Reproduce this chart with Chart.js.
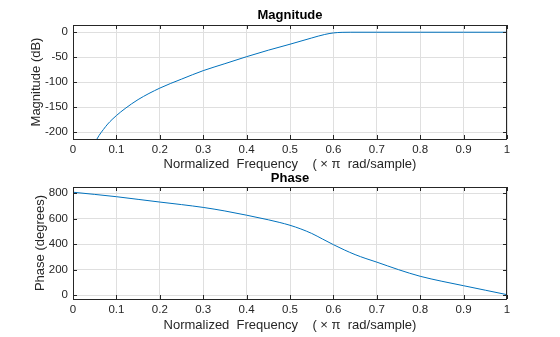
<!DOCTYPE html>
<html>
<head>
<meta charset="utf-8">
<script src="https://cdn.jsdelivr.net/npm/chart.js@4.4.1/dist/chart.umd.min.js"></script>
<style>
  html, body { margin: 0; padding: 0; background: #fff; }
  #wrap { position: relative; width: 560px; height: 337px; }
  #wrap canvas { position: absolute; left: 0; top: 0; }
</style>
</head>
<body>
<div id="wrap">
  <canvas id="magChart" width="560" height="337"></canvas>
  <canvas id="phaseChart" width="560" height="337"></canvas>
</div>
<script>
// ─── Data ──────────────────────────
const freqTicks = [0, 0.1, 0.2, 0.3, 0.4, 0.5, 0.6, 0.7, 0.8, 0.9, 1];
const magTicks = [-200, -150, -100, -50, 0];
const phaseTicks = [0, 200, 400, 600, 800];

const magFreq = [0.05, 0.06, 0.07, 0.08, 0.09, 0.1, 0.12, 0.15, 0.2, 0.25, 0.3, 0.35, 0.4, 0.45, 0.5, 0.55, 0.58, 0.6, 0.62, 0.64, 0.7, 0.8, 0.9, 1.0];
const magDb = [-222, -207, -195, -184, -175, -167, -153, -135, -112, -94, -77, -63, -49, -36, -24, -11.5, -4.5, -1.4, -0.2, 0, 0, 0, 0, 0];

const phaseFreq = [0, 0.05, 0.1, 0.15, 0.2, 0.25, 0.3, 0.35, 0.4, 0.45, 0.475, 0.5, 0.525, 0.55, 0.575, 0.6, 0.625, 0.65, 0.675, 0.7, 0.75, 0.8, 0.85, 0.9, 0.95, 1.0];
const phaseDeg = [808, 791, 773, 752, 731, 711, 689, 661, 628, 592, 572, 549, 520, 485, 441, 397, 356, 319, 288, 260, 201, 149, 110, 75, 40, 5];

const FONT = "'Liberation Sans', Arial, Helvetica, sans-serif";
const AXIS_COLOR = '#262626';
const GRID_COLOR = '#dfdfdf';
const LINE_COLOR = '#0072bd';
const X_LABEL = 'Normalized  Frequency    ( \u00d7 \u03c0  rad/sample)';

// inward ticks on all four sides + box, like a matlab axes
const boxPlugin = {
    id: 'boxTicks',
    afterDraw(chart) {
        const { ctx, chartArea: a, scales } = chart;
        const len = 4;
        ctx.save();
        ctx.strokeStyle = AXIS_COLOR;
        ctx.lineWidth = 1;
        ctx.beginPath();
        scales.x.ticks.forEach(t => {
            const px = Math.round(scales.x.getPixelForValue(t.value)) + 0.5;
            ctx.moveTo(px, a.bottom); ctx.lineTo(px, a.bottom - len);
            ctx.moveTo(px, a.top); ctx.lineTo(px, a.top + len);
        });
        scales.y.ticks.forEach(t => {
            const py = Math.round(scales.y.getPixelForValue(t.value)) + 0.5;
            ctx.moveTo(a.left, py); ctx.lineTo(a.left + len, py);
            ctx.moveTo(a.right, py); ctx.lineTo(a.right - len, py);
        });
        ctx.stroke();
        ctx.strokeRect(Math.round(a.left) + 0.5, Math.round(a.top) + 0.5,
            Math.round(a.right - a.left) - 1, Math.round(a.bottom - a.top));
        ctx.restore();
    }
};

function makeChart(id, opts) {
    const pts = opts.xs.map((x, i) => ({ x: x, y: opts.ys[i] }));
    return new Chart(document.getElementById(id), {
        type: 'line',
        data: {
            datasets: [{
                data: pts,
                borderColor: LINE_COLOR,
                borderWidth: 1,
                pointRadius: 0,
                fill: false,
                cubicInterpolationMode: 'monotone'
            }]
        },
        options: {
            responsive: false,
            animation: false,
            events: [],
            layout: { padding: opts.padding },
            plugins: {
                legend: { display: false },
                tooltip: { enabled: false },
                title: {
                    display: true,
                    text: opts.title,
                    fullSize: false,
                    color: '#000',
                    font: { family: FONT, size: 13, weight: 'bold' },
                    padding: opts.titlePad
                }
            },
            scales: {
                x: {
                    type: 'linear',
                    min: 0,
                    max: 1,
                    afterBuildTicks: s => { s.ticks = freqTicks.map(v => ({ value: v })); },
                    afterFit: s => { s.height = 34; },
                    grid: { color: GRID_COLOR, drawTicks: false },
                    border: { display: false },
                    ticks: {
                        padding: 4,
                        color: AXIS_COLOR,
                        font: { family: FONT, size: 11.5 },
                        maxRotation: 0,
                        callback: v => String(Math.round(v * 10) / 10)
                    },
                    title: {
                        display: true,
                        text: X_LABEL,
                        color: AXIS_COLOR,
                        font: { family: FONT, size: 13 },
                        padding: { top: 0, bottom: opts.xTitlePad }
                    }
                },
                y: {
                    type: 'linear',
                    min: opts.yMin,
                    max: opts.yMax,
                    afterBuildTicks: s => { s.ticks = opts.yTicks.map(v => ({ value: v })); },
                    afterFit: s => { s.width = 73; },
                    grid: { color: GRID_COLOR, drawTicks: false },
                    border: { display: false },
                    ticks: {
                        padding: 5,
                        color: AXIS_COLOR,
                        font: { family: FONT, size: 11.5 },
                        callback: v => String(v)
                    },
                    title: {
                        display: true,
                        text: opts.yLabel,
                        color: AXIS_COLOR,
                        font: { family: FONT, size: 13 },
                        padding: { top: opts.yTitlePad, bottom: 0 }
                    }
                }
            }
        },
        plugins: [boxPlugin]
    });
}

// ─── Magnitude ──────────────────────────
makeChart('magChart', {
    xs: magFreq, ys: magDb,
    title: 'Magnitude',
    yLabel: 'Magnitude (dB)',
    yMin: -214, yMax: 14.5,
    yTicks: magTicks,
    padding: { left: 0, right: 53, top: 0, bottom: 164 },
    titlePad: { top: 8, bottom: 1.4 },
    xTitlePad: 0.7,
    yTitlePad: 29
});

// ─── Phase ──────────────────────────
makeChart('phaseChart', {
    xs: phaseFreq, ys: phaseDeg,
    title: 'Phase',
    yLabel: 'Phase (degrees)',
    yMin: -29, yMax: 849,
    yTicks: phaseTicks,
    padding: { left: 0, right: 53, top: 160, bottom: 4 },
    titlePad: { top: 10.2, bottom: 1.2 },
    xTitlePad: 0.2,
    yTitlePad: 32.5
});
</script>
</body>
</html>
